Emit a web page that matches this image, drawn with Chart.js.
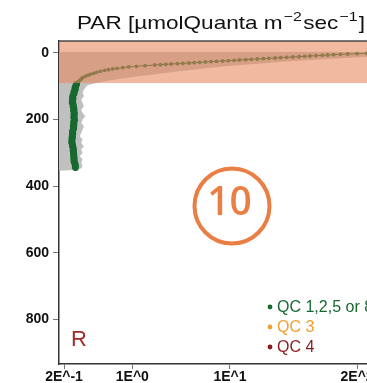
<!DOCTYPE html>
<html><head><meta charset="utf-8">
<script src="https://cdn.jsdelivr.net/npm/chart.js@4"></script>
<style>
html,body{margin:0;padding:0;overflow:hidden;background:#fff;}
#wrap{position:relative;width:420px;height:383px;}
</style></head><body>
<div id="wrap"><canvas id="c"></canvas></div>
<script>
// ---- data ----
const X_TICKS = [0.2, 1, 10, 200];
const X_TICK_LABELS = ['2E^-1', '1E^0', '1E^1', '2E^2'];
const Y_TICKS = [0, 200, 400, 600, 800];
const X_RANGE = [0.1777, 695.9];
const Y_RANGE = [-36, 934];
const TITLE_PARTS = [['PAR [\u00b5molQuanta m', false], ['\u22122', true], ['sec', false], ['\u22121', true], [']', false]];

const PROFILE_DEPTH = [0,1,2,3,4,5,6,7,8,9,10,11,12,13,14,15,16,17,18,19,20,21,22,23,24,25,26,27,28,29,30,31,32,33,34,35,36,38,40,42,44,46,48,50,52,55,58,61,64,67,70,74,78,82,86,90,
  93,97,101,105,109,113,117,121,125,129,133,137,141,145,149,153,157,161,165,169,173,177,181,185,189,193,197,201,205,209,213,217,221,225,229,233,237,241,245,249,253,257,261,265,269,273,277,281,285,289,293,297,301,305,309,313,317,321,325,329,333,337,341,345];
const PROFILE_PAR = [300,250,200,160,135,115,100,88,76,66,58,51,44,38,33,29,25,22,19,16.5,14.5,12.5,11,9.6,8.4,7.3,6.4,5.6,4.9,4.3,3.8,3.3,2.9,2.5,2.2,1.95,1.7,1.35,1.1,0.92,0.8,0.7,0.63,0.57,0.52,0.47,0.43,0.40,0.37,0.35,0.33,0.31,0.30,0.29,0.28,0.28,
  0.270,0.266,0.262,0.258,0.262,0.257,0.252,0.255,0.250,0.246,0.244,0.248,0.243,0.246,0.242,0.247,0.250,0.247,0.251,0.254,0.250,0.253,0.256,0.252,0.255,0.251,0.254,0.257,0.253,0.250,0.254,0.251,0.248,0.252,0.249,0.246,0.244,0.247,0.243,0.245,0.241,0.244,0.240,0.242,0.239,0.243,0.246,0.244,0.248,0.250,0.247,0.251,0.249,0.253,0.250,0.254,0.251,0.255,0.252,0.256,0.259,0.262,0.260,0.262];

const ENV_DEPTH = [-4,0,3,6,10,15,20,25,30,35,40,45,50,55,60,65,70,75,80,85,88,91,94,97,100,105,110,120,130,140,150,160,170,180,190,200,210,220,230,240,250,260,270,280,290,300,310,320,330,340,346,350,354];
const ENV_MAX = [5000,5000,2000,900,330,150,75,40,24,14,9,6,4.2,3.0,2.2,1.6,1.15,0.85,0.65,0.52,0.46,0.42,0.38,0.35,0.34,0.33,0.32,0.31,0.32,0.30,0.31,0.32,0.30,0.31,0.33,0.31,0.30,0.32,0.31,0.30,0.29,0.31,0.30,0.32,0.30,0.31,0.29,0.31,0.30,0.31,0.30,0.28,0.2];

const BAND_DEPTH = [-36, 91];
const LEGEND_LABELS = ['QC 1,2,5 or 8', 'QC 3', 'QC 4'];
const PANEL_LETTER = 'R';
const PANEL_NUMBER = '10';

// ---- styles ----
const GREEN = '#17692f', ORANGE = '#f0a032', DARKRED = '#8a1a1f';
const FONT = '"Liberation Sans", Arial, Helvetica, sans-serif';

Chart.defaults.font.family = FONT;

const profilePts = PROFILE_DEPTH.map((d, i) => ({x: PROFILE_PAR[i], y: d}));
const envPts = ENV_DEPTH.map((d, i) => ({x: ENV_MAX[i], y: d}));
const bandPts = BAND_DEPTH.map(d => ({x: X_RANGE[1] * 10, y: d}));

const deco = {
  id: 'deco',
  afterDraw(chart) {
    const ctx = chart.ctx, a = chart.chartArea;
    ctx.save();
    // top frame line
    ctx.strokeStyle = '#4a4a4a'; ctx.lineWidth = 1.5;
    ctx.beginPath(); ctx.moveTo(a.left - 0.75, a.top); ctx.lineTo(a.right, a.top); ctx.stroke();
    // title (stretched to the reference width)
    const big = '18.5px ' + FONT, small = '13px ' + FONT;
    let w = 0;
    TITLE_PARTS.forEach(([t, sup]) => { ctx.font = sup ? small : big; w += ctx.measureText(t).width + (sup ? 2 : 0); });
    const left = 77, width = 288, sx = width / w;
    ctx.save();
    ctx.translate(left, 0); ctx.scale(sx, 1);
    let x = 0;
    ctx.fillStyle = '#111'; ctx.textBaseline = 'alphabetic'; ctx.textAlign = 'left';
    TITLE_PARTS.forEach(([t, sup]) => {
      ctx.font = sup ? small : big;
      ctx.fillText(t, x + (sup ? 1 : 0), sup ? 20.5 : 28.5);
      x += ctx.measureText(t).width + (sup ? 2 : 0);
    });
    ctx.restore();
    // legend
    const colors = [GREEN, ORANGE, DARKRED];
    ctx.font = '16px ' + FONT; ctx.textBaseline = 'middle'; ctx.textAlign = 'left';
    LEGEND_LABELS.forEach((lab, i) => {
      const y = 307 + i * 20;
      ctx.fillStyle = colors[i];
      ctx.beginPath(); ctx.arc(270, y, 2.4, 0, Math.PI * 2); ctx.fill();
      ctx.fillText(lab, 277, y + 0.5);
    });
    // panel letter
    ctx.fillStyle = '#a02c2c'; ctx.font = '22px ' + FONT; ctx.textBaseline = 'alphabetic';
    ctx.fillText(PANEL_LETTER, 71, 346);
    // badge
    ctx.strokeStyle = '#ea7f45'; ctx.lineWidth = 4;
    ctx.beginPath(); ctx.arc(232, 206, 37.5, 0, Math.PI * 2); ctx.stroke();
    ctx.fillStyle = '#ea7f45'; ctx.font = '600 39px "Open Sans", ' + FONT;
    ctx.textAlign = 'center'; ctx.textBaseline = 'middle';
    ctx.fillText(PANEL_NUMBER, 229.5, 204);
    ctx.restore();
  }
};

new Chart(document.getElementById('c'), {
  type: 'line',
  data: {
    datasets: [
      { label: 'band', data: bandPts, order: 0, borderWidth: 0, pointRadius: 0,
        backgroundColor: 'rgba(230,136,94,0.59)', fill: {value: X_RANGE[0]} },
      { label: LEGEND_LABELS[0], data: profilePts, order: 1, borderColor: '#24522b', borderWidth: 1,
        pointBackgroundColor: GREEN, pointBorderWidth: 0,
        pointRadius: c => (c.raw && c.raw.y > BAND_DEPTH[1]) ? 3.3 : 1.9, fill: false },
      { label: 'range', data: envPts, order: 2, borderWidth: 0, pointRadius: 0,
        backgroundColor: 'rgb(192,192,192)', fill: {value: X_RANGE[0]} },
      { label: LEGEND_LABELS[1], data: [], order: 3, backgroundColor: ORANGE },
      { label: LEGEND_LABELS[2], data: [], order: 4, backgroundColor: DARKRED }
    ]
  },
  options: {
    indexAxis: 'y',
    responsive: true, maintainAspectRatio: false, devicePixelRatio: 1, animation: false,
    layout: { padding: { top: 41, right: 10, bottom: 0, left: 0 } },
    plugins: { legend: { display: false }, tooltip: { enabled: false }, title: { display: false } },
    scales: {
      x: {
        type: 'logarithmic', position: 'bottom', min: X_RANGE[0], max: X_RANGE[1],
        afterBuildTicks: s => { s.ticks = X_TICKS.map(v => ({value: v})); },
        afterFit: s => { s.height = 19; },
        ticks: { callback: (v, i) => X_TICK_LABELS[i], font: {size: 14, weight: 'bold'}, color: '#111',
                 padding: 0, autoSkip: false, maxRotation: 0 },
        grid: { drawOnChartArea: false, drawTicks: true, tickLength: 5, color: '#777' },
        border: { display: true, color: '#333', width: 1.5 }
      },
      y: {
        type: 'linear', position: 'left', reverse: true, min: Y_RANGE[0], max: Y_RANGE[1],
        afterBuildTicks: s => { s.ticks = Y_TICKS.map(v => ({value: v})); },
        afterFit: s => { s.width = 59; },
        ticks: { font: {size: 14, weight: 'bold'}, color: '#111', padding: 4 },
        grid: { drawOnChartArea: false, drawTicks: true, tickLength: 6, color: '#777' },
        border: { display: true, color: '#333', width: 1.5 }
      }
    }
  },
  plugins: [deco]
});
</script>
</body></html>
